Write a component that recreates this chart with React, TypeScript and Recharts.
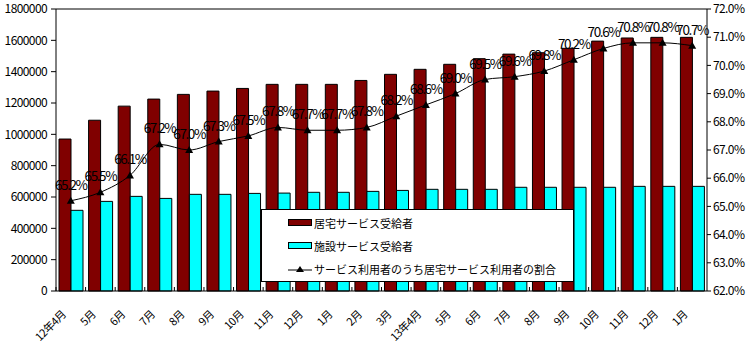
import {
  ComposedChart,
  Bar,
  Line,
  XAxis,
  YAxis,
  Legend,
  LabelList,
  ReferenceLine,
} from 'recharts';

// 月（カテゴリ）
const months = [
  '12年4月', '5月', '6月', '7月', '8月', '9月', '10月', '11月', '12月', '1月', '2月', '3月',
  '13年4月', '5月', '6月', '7月', '8月', '9月', '10月', '11月', '12月', '1月',
];

// 居宅サービス受給者
const homeCare = [
  970000, 1090000, 1180000, 1225000, 1255000, 1276000, 1293000, 1319000, 1319000, 1319000, 1344000,
  1383000, 1415000, 1447000, 1483000, 1512000, 1521000, 1549000, 1595000, 1615000, 1619000, 1619000,
];

// 施設サービス受給者
const facilityCare = [
  515000, 572000, 604000, 591000, 617000, 617000, 623000, 625000, 630000, 630000, 636000,
  642000, 649000, 649000, 649000, 662000, 662000, 662000, 662000, 668000, 668000, 668000,
];

// サービス利用者のうち居宅サービス利用者の割合 (%)
const homeRatio = [
  65.2, 65.5, 66.1, 67.2, 67.0, 67.3, 67.5, 67.8, 67.7, 67.7, 67.8,
  68.2, 68.6, 69.0, 69.5, 69.6, 69.8, 70.2, 70.6, 70.8, 70.8, 70.7,
];

const leftTicks = [0, 200000, 400000, 600000, 800000, 1000000, 1200000, 1400000, 1600000, 1800000];
const rightTicks = [62, 63, 64, 65, 66, 67, 68, 69, 70, 71, 72];

const data = months.map((m, i) => ({
  month: m,
  home: homeCare[i],
  facility: facilityCare[i],
  ratio: homeRatio[i],
}));

const FONT = '"Noto Sans CJK JP", "Liberation Sans", sans-serif';
const BAND = 651 / months.length;

function MonthTick({ x, y, payload }: any) {
  const ax = x - 4;
  const ay = y + 24;
  return (
    <g>
      <line x1={x - BAND / 2} y1={y} x2={x - BAND / 2} y2={y - 4} stroke="#000" />
      <text
        x={ax}
        y={ay}
        textAnchor="end"
        fontSize={11}
        fontFamily={FONT}
        fill="#000"
        letterSpacing={-0.5}
        transform={`rotate(-45, ${ax}, ${ay})`}
      >
        {payload.value}
      </text>
    </g>
  );
}

function Triangle({ cx, cy }: any) {
  if (cx == null || cy == null) return null;
  return <path d={`M${cx},${cy - 4} L${cx + 4},${cy + 3} L${cx - 4},${cy + 3} Z`} fill="#000" />;
}

function RatioLabel({ x, y, value }: any) {
  return (
    <text
      x={x}
      y={y - 11}
      textAnchor="middle"
      fontSize={13.5}
      fontFamily={FONT}
      letterSpacing={-1.4}
      fill="#000"
    >
      {`${Number(value).toFixed(1)}%`}
    </text>
  );
}

function ChartLegend() {
  const rowStyle = { display: 'flex', alignItems: 'center', height: 23 } as const;
  return (
    <div
      style={{
        width: 313,
        height: 73,
        boxSizing: 'border-box',
        border: '1px solid #000',
        background: '#fff',
        paddingTop: 1,
        paddingLeft: 26,
        fontFamily: FONT,
        fontSize: 11,
        color: '#000',
      }}
    >
      <div style={rowStyle}>
        <svg width={26} height={8}>
          <rect x={0.5} y={0.5} width={23} height={6} fill="#800000" stroke="#000" />
        </svg>
        <span>居宅サービス受給者</span>
      </div>
      <div style={rowStyle}>
        <svg width={26} height={8}>
          <rect x={0.5} y={0.5} width={23} height={6} fill="#00FFFF" stroke="#000" />
        </svg>
        <span>施設サービス受給者</span>
      </div>
      <div style={rowStyle}>
        <svg width={26} height={10}>
          <line x1={0} y1={6} x2={24} y2={6} stroke="#000" />
          <path d="M12,2 L16,8 L8,8 Z" fill="#000" />
        </svg>
        <span>サービス利用者のうち居宅サービス利用者の割合</span>
      </div>
    </div>
  );
}

export default function App() {
  return (
    <div style={{ position: 'absolute', left: 0, top: 0, width: 746, height: 344, background: '#fff' }}>
      <ComposedChart
        width={746}
        height={344}
        data={data}
        margin={{ top: 9, right: 0, bottom: 0, left: 0 }}
        barGap={0}
        barSize={12}
      >
        <XAxis
          dataKey="month"
          interval={0}
          height={53}
          tickSize={0}
          tickMargin={0}
          tick={<MonthTick />}
          axisLine={{ stroke: '#000' }}
        />
        <YAxis
          yAxisId="left"
          width={56}
          domain={[0, 1800000]}
          ticks={leftTicks}
          interval={0}
          tickSize={5}
          tickMargin={4}
          axisLine={{ stroke: '#000' }}
          tickLine={{ stroke: '#000' }}
          tick={{ fontSize: 12, fill: '#000', fontFamily: FONT, letterSpacing: -0.6 }}
        />
        <YAxis
          yAxisId="right"
          orientation="right"
          width={39}
          domain={[62, 72]}
          ticks={rightTicks}
          interval={0}
          tickSize={4}
          tickMargin={2}
          axisLine={{ stroke: '#000' }}
          tickLine={{ stroke: '#000' }}
          tickFormatter={(v) => `${Number(v).toFixed(1)}%`}
          tick={{ fontSize: 12, fill: '#000', fontFamily: FONT, letterSpacing: -0.6 }}
        />
        <ReferenceLine yAxisId="left" y={1800000} stroke="#000" />
        <Bar
          yAxisId="left"
          dataKey="home"
          name="居宅サービス受給者"
          fill="#800000"
          stroke="#000"
          strokeWidth={1}
          isAnimationActive={false}
        />
        <Bar
          yAxisId="left"
          dataKey="facility"
          name="施設サービス受給者"
          fill="#00FFFF"
          stroke="#000"
          strokeWidth={1}
          isAnimationActive={false}
        />
        <Line
          yAxisId="right"
          dataKey="ratio"
          name="サービス利用者のうち居宅サービス利用者の割合"
          type="monotone"
          stroke="#000"
          strokeWidth={1}
          dot={<Triangle />}
          activeDot={false}
          isAnimationActive={false}
        >
          <LabelList dataKey="ratio" content={<RatioLabel />} />
        </Line>
        <Legend
          layout="horizontal"
          verticalAlign="middle"
          align="center"
          content={() => <ChartLegend />}
          wrapperStyle={{ left: 261, top: 209, width: 313, height: 73 }}
        />
      </ComposedChart>
    </div>
  );
}
